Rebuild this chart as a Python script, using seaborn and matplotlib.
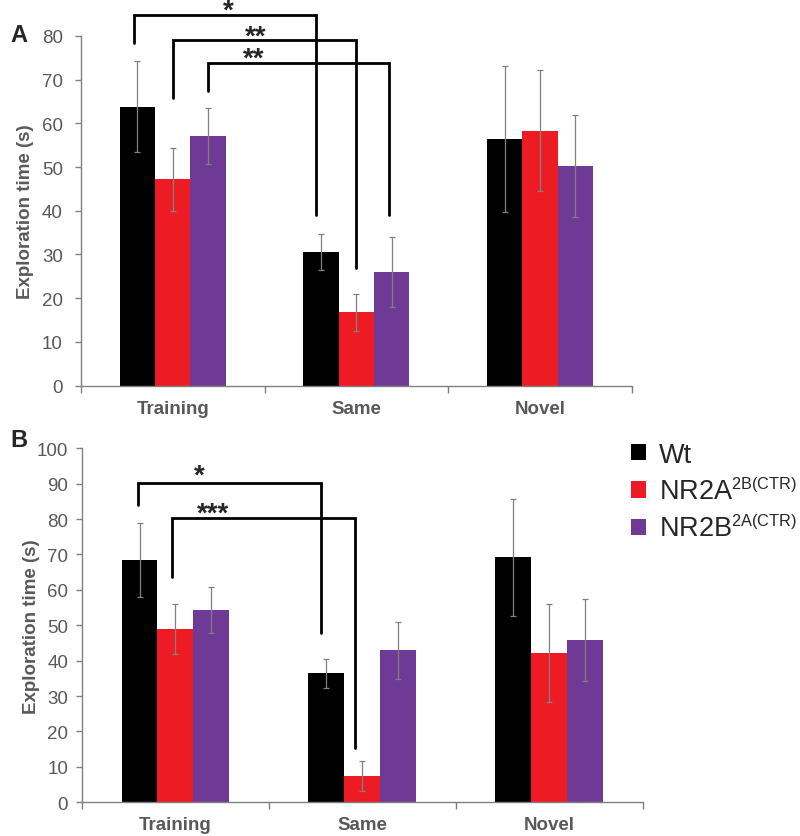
import numpy as np
import pandas as pd
import matplotlib
matplotlib.use('Agg')
import matplotlib.pyplot as plt
import matplotlib._mathtext as mathtext_internal
import seaborn as sns

# categories and groups
conditions = ['Training', 'Same', 'Novel']
groups = ['Wt', r'NR2A$^{\mathregular{2B(CTR)}}$', r'NR2B$^{\mathregular{2A(CTR)}}$']
colors = ['#000000', '#ED1C24', '#6F3996']

# panel A: means and SEM (s)
a_wt = [63.8, 30.6, 56.4]
a_2a = [47.2, 16.8, 58.3]
a_2b = [57.1, 26.1, 50.3]
a_wt_err = [10.4, 4.2, 16.6]
a_2a_err = [7.2, 4.2, 13.8]
a_2b_err = [6.3, 8.0, 11.7]

# panel B: means and SEM (s)
b_wt = [68.4, 36.4, 69.2]
b_2a = [48.9, 7.5, 42.2]
b_2b = [54.3, 42.9, 45.9]
b_wt_err = [10.4, 4.2, 16.6]
b_2a_err = [7.1, 4.2, 13.8]
b_2b_err = [6.5, 8.0, 11.6]

# significance brackets: (x left, x right, y top, y left end, y right end, label, label x, label offset pt)
a_sig = [(-0.21, 0.78, 84.7, 78.3, 39.0, '*', 0.30, -1.4),
         (0.0, 1.0, 79.1, 65.8, 26.8, '**', 0.45, -3.0),
         (0.19, 1.18, 73.7, 67.3, 39.0, '**', 0.44, -1.4)]
b_sig = [(-0.20, 0.78, 90.1, 84.0, 47.8, '*', 0.13, 0.5),
         (-0.02, 0.96, 80.2, 63.6, 15.3, '***', 0.20, -1.4)]

sns.set_style('white')
plt.rcParams['font.family'] = ['Liberation Sans', 'DejaVu Sans']
plt.rcParams['mathtext.fontset'] = 'custom'
plt.rcParams['mathtext.rm'] = 'Liberation Sans'
# smaller superscripts in the legend
mathtext_internal.SHRINK_FACTOR = 0.6

grey = '#808080'
txt_grey = '#595959'


def make_df(vals):
    rows = []
    for g, v in zip(groups, vals):
        for c, y in zip(conditions, v):
            rows.append({'cond': c, 'grp': g, 'val': y})
    return pd.DataFrame(rows)


def draw_panel(ax, vals, errs, ymax, sig, ypad, ylab_x):
    df = make_df(vals)
    sns.barplot(data=df, x='cond', y='val', hue='grp', palette=colors,
                width=0.577, errorbar=None, saturation=1, legend=False,
                linewidth=0, ax=ax)
    for cont, e in zip(ax.containers, errs):
        xs = [b.get_x() + b.get_width() / 2 for b in cont.patches]
        ys = [b.get_height() for b in cont.patches]
        ax.errorbar(xs, ys, yerr=e, fmt='none', ecolor=grey, elinewidth=0.9,
                    capsize=2.5, capthick=0.9, zorder=3)
    ax.set_xlim(-0.5, 2.5)
    ax.set_ylim(0, ymax)
    ax.set_yticks(np.arange(0, ymax + 1, 10))
    ax.set_xticks([-0.5, 0.5, 1.5, 2.5], minor=True)
    ax.tick_params(axis='x', which='major', length=0, pad=10, labelsize=13.5,
                   labelcolor=txt_grey)
    ax.tick_params(axis='x', which='minor', length=5, width=1, color=grey,
                   direction='out', bottom=True)
    ax.tick_params(axis='y', length=4, width=1, color=grey, direction='out',
                   left=True, labelsize=13.5, labelcolor=txt_grey, pad=ypad)
    for lab in ax.get_xticklabels():
        lab.set_fontweight('bold')
    ax.set_xlabel('')
    ax.set_ylabel('Exploration time (s)', fontsize=13.5, fontweight='bold',
                  color=txt_grey)
    ax.yaxis.set_label_coords(ylab_x, 0.5)
    sns.despine(ax=ax)
    for s in ['left', 'bottom']:
        ax.spines[s].set_color(grey)
        ax.spines[s].set_linewidth(1)
    for x1, x2, yt, y1, y2, lab, tx, off in sig:
        ax.plot([x1, x1, x2, x2], [y1, yt, yt, y2], color='black', lw=2,
                clip_on=False, solid_joinstyle='miter', zorder=4)
        ax.annotate(lab, xy=(tx, yt), xytext=(0, off), textcoords='offset points',
                    ha='center', va='baseline', fontsize=20, fontweight='bold',
                    annotation_clip=False)


fig = plt.figure(figsize=(8, 8.37), dpi=100)
ax_a = fig.add_axes([0.101, 0.538, 0.689, 0.418])
ax_b = fig.add_axes([0.1025, 0.0403, 0.701, 0.4229])

draw_panel(ax_a, [a_wt, a_2a, a_2b], [a_wt_err, a_2a_err, a_2b_err], 80, a_sig, 9, -0.085)
draw_panel(ax_b, [b_wt, b_2a, b_2b], [b_wt_err, b_2a_err, b_2b_err], 100, b_sig, 6, -0.075)

fig.text(0.0125, 0.950, 'A', fontsize=17, fontweight='bold', ha='left', va='baseline')
fig.text(0.0125, 0.4663, 'B', fontsize=17, fontweight='bold', ha='left', va='baseline')

ax_b.legend(ax_b.containers[:3], groups, loc='upper left',
            bbox_to_anchor=(0.775, 0.484), bbox_transform=fig.transFigure,
            frameon=False, fontsize=19.5, handlelength=0.55, handleheight=0.55,
            handletextpad=0.5, labelspacing=0.4, borderaxespad=0)

fig.savefig('out.png', dpi=100)
